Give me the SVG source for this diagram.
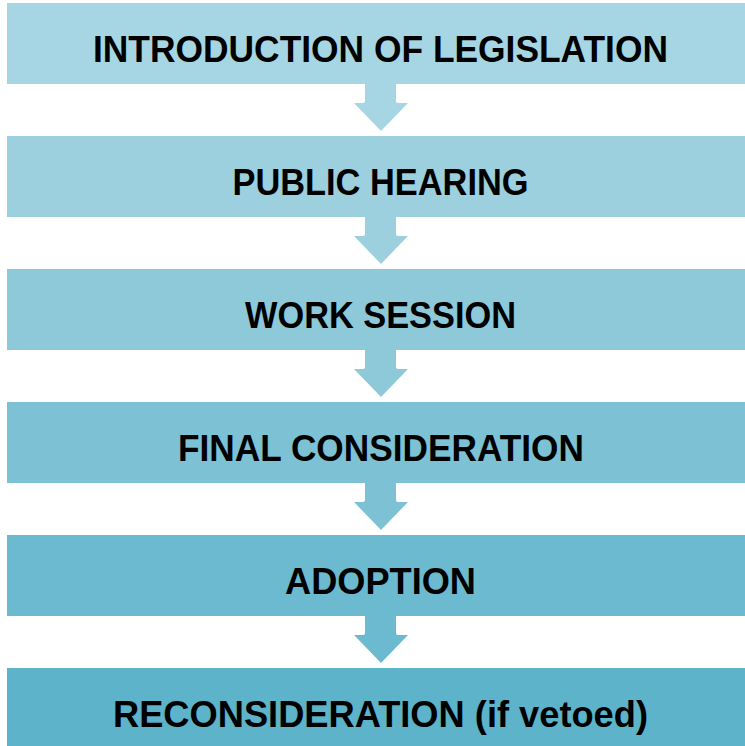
<svg xmlns="http://www.w3.org/2000/svg" width="745" height="746" viewBox="0 0 745 746">
<style>
.lbl{font-family:"Liberation Sans",Arial,sans-serif;font-weight:bold;font-size:37.5px;fill:#000;text-anchor:middle}
</style>
<defs>
<path id="arr" d="M365,84 L396,84 L396,101 Q396,103 398,103 L408,103 L381,131 L354,103 L363,103 Q365,103 365,101 Z"/>
</defs>
<rect width="745" height="746" fill="#fff"/>
<g id="connectors">
<use href="#arr" fill="#A6D6E3"/>
<use href="#arr" y="133" fill="#9CD0DF"/>
<use href="#arr" y="266" fill="#8DC9D9"/>
<use href="#arr" y="399" fill="#7CC1D4"/>
<use href="#arr" y="532" fill="#6BBACF"/>
</g>
<g id="n1"><rect x="7" y="3" width="750" height="81" fill="#A6D6E3"/><text class="lbl" x="380.5" y="62" textLength="575" lengthAdjust="spacingAndGlyphs">INTRODUCTION OF LEGISLATION</text></g>
<g id="n2"><rect x="7" y="136" width="750" height="81" fill="#9CD0DF"/><text class="lbl" x="380.5" y="194.5" textLength="296" lengthAdjust="spacingAndGlyphs">PUBLIC HEARING</text></g>
<g id="n3"><rect x="7" y="269" width="750" height="81" fill="#8DC9D9"/><text class="lbl" x="380.5" y="327.5" textLength="271" lengthAdjust="spacingAndGlyphs">WORK SESSION</text></g>
<g id="n4"><rect x="7" y="402" width="750" height="81" fill="#7CC1D4"/><text class="lbl" x="381" y="460.5" textLength="406" lengthAdjust="spacingAndGlyphs">FINAL CONSIDERATION</text></g>
<g id="n5"><rect x="7" y="535" width="750" height="81" fill="#6BBACF"/><text class="lbl" x="380.5" y="593.5" textLength="191" lengthAdjust="spacingAndGlyphs">ADOPTION</text></g>
<g id="n6"><rect x="7" y="668" width="750" height="81" fill="#5CB3CA"/><text class="lbl" x="380.5" y="726.5" textLength="535" lengthAdjust="spacingAndGlyphs">RECONSIDERATION (if vetoed)</text></g>
</svg>
